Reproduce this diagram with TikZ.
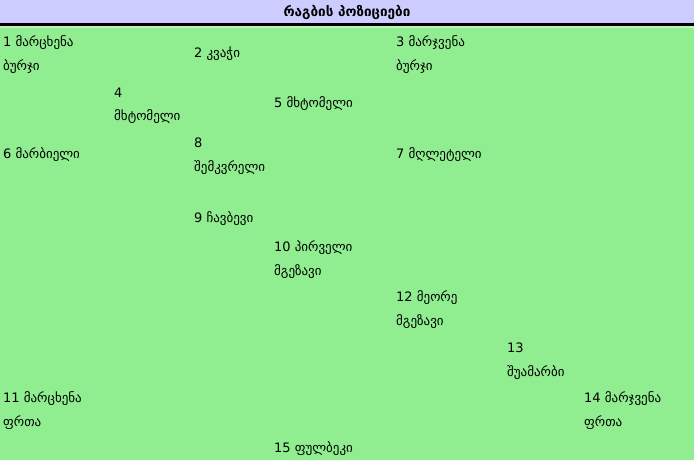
\documentclass[tikz,border=0pt]{standalone}
\usepackage{fontspec}
\setmainfont{DejaVu Sans}
\definecolor{fieldgreen}{HTML}{90EE90}
\definecolor{headlav}{HTML}{CCCCFF}
\begin{document}
\begin{tikzpicture}[x=1pt,y=-1pt,
  lbl/.style={anchor=base west, inner sep=0pt, font=\fontsize{13}{15}\selectfont},
  ttl/.style={anchor=base, inner sep=0pt, font=\bfseries\fontsize{13.5}{15}\selectfont}]
\useasboundingbox (0,0) rectangle (694,460);
\fill[fieldgreen] (0,0) rectangle (694,460);
\fill[headlav] (0,0) rectangle (694,23.5);
\fill[black] (0,23.5) rectangle (694,26);
\fill[white!40!fieldgreen] (0,26) rectangle (694,28);
\node[ttl] (title) at (347,17) {რაგბის პოზიციები};
% positions
\node[lbl] (p1a) at (3,47) {1 მარცხენა};
\node[lbl] (p1b) at (3,71) {ბურჯი};
\node[lbl] (p2) at (194,58) {2 კვაჭი};
\node[lbl] (p3a) at (396,47) {3 მარჯვენა};
\node[lbl] (p3b) at (396,71) {ბურჯი};
\node[lbl] (p4a) at (114,97) {4};
\node[lbl] (p4b) at (114,121) {მხტომელი};
\node[lbl] (p5) at (274,107) {5 მხტომელი};
\node[lbl] (p6) at (3,158) {6 მარბიელი};
\node[lbl] (p7) at (396,158) {7 მღლეტელი};
\node[lbl] (p8a) at (194,147) {8};
\node[lbl] (p8b) at (194,171) {შემკვრელი};
\node[lbl] (p9) at (194,222) {9 ჩავბევი};
\node[lbl] (p10a) at (274,251.5) {10 პირველი};
\node[lbl] (p10b) at (274,275.5) {მგეზავი};
\node[lbl] (p12a) at (396,301.5) {12 მეორე};
\node[lbl] (p12b) at (396,325.5) {მგეზავი};
\node[lbl] (p13a) at (507,352) {13};
\node[lbl] (p13b) at (507,376) {შუამარბი};
\node[lbl] (p11a) at (3,402) {11 მარცხენა};
\node[lbl] (p11b) at (3,426) {ფრთა};
\node[lbl] (p14a) at (584,402) {14 მარჯვენა};
\node[lbl] (p14b) at (584,426) {ფრთა};
\node[lbl] (p15) at (274,452) {15 ფულბეკი};
\end{tikzpicture}
\end{document}
